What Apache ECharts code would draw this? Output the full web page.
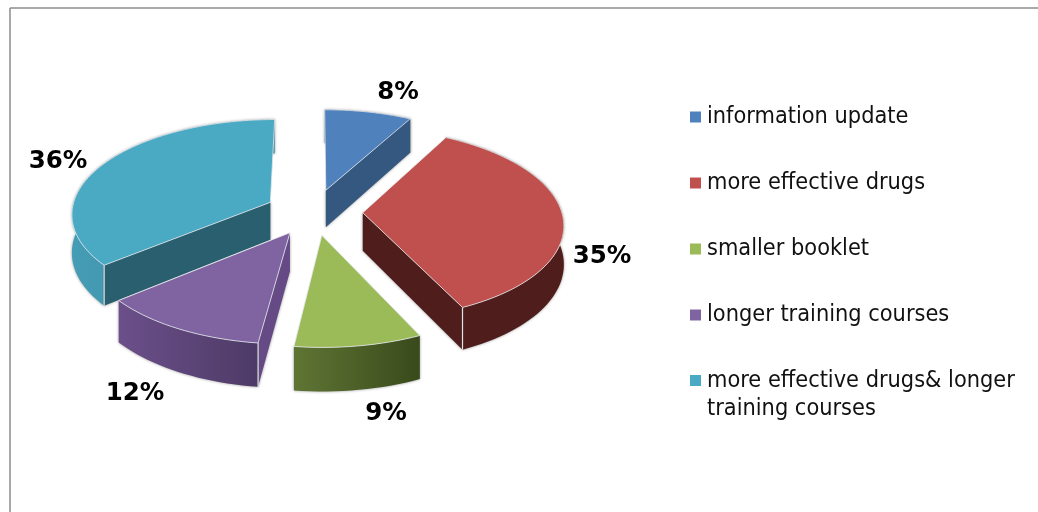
<!DOCTYPE html>
<html><head><meta charset="utf-8">
<style>html,body{margin:0;padding:0;background:#fff}#c{width:1038px;height:512px}</style>
<script src="https://cdn.jsdelivr.net/npm/echarts@6/dist/echarts.min.js"></script>
</head><body><div id="c"></div>
<script>
const categories = ['information update','more effective drugs','smaller booklet','longer training courses','more effective drugs& longer\ntraining courses'];
const shares = [8,35,9,12,36];
const topColors = ['#4f81bd','#c0504d','#9bbb59','#8064a2','#4aa9c3'];
const radialWall = ['#34587f','#4f1e1c','#4a5c28','#664a85','#2a5f6f'];
const outerWallFrom = ['#34587f','#4f1e1c','#5f7534','#6b4f8a','#459cb5'];
const outerWallTo = ['#34587f','#4f1e1c','#394a1b','#4d3a66','#3a8aa2'];
const drawOrder = [1,2,3,3,1];

// Projection of the tilted, exploded disc
const VIEW = {cx:314, cy:212, rx:199, ry:94, persp:0.111, depth:38, explode:0.245};
const LABEL_AT = [[398,93],[602,257],[386,414],[135,394],[58,162]];
const total = shares.reduce((a,b)=>a+b,0);
const toRad = Math.PI/180;
function project(u,v,down){
  const s = 1/(1-VIEW.persp*v);
  return [VIEW.cx+VIEW.rx*u*s, VIEW.cy+VIEW.ry*v*s+(down?VIEW.depth*s:0)];
}
function sliceShape(i){
  let before = 0; for(let k=0;k<i;k++) before+=shares[k];
  const t0 = before/total*360, t1 = (before+shares[i])/total*360, mid=(t0+t1)/2;
  const au = VIEW.explode*Math.sin(mid*toRad), av = -VIEW.explode*Math.cos(mid*toRad);
  const arc=[];
  const steps = Math.max(8,Math.round((t1-t0)/2));
  for(let k=0;k<=steps;k++){
    const t=(t0+(t1-t0)*k/steps)*toRad;
    arc.push([au+Math.sin(t),av-Math.cos(t)]);
  }
  return {t0,t1,apex:[au,av],arc};
}
function renderSlice(i){
  return function(params,api){
    const sh = sliceShape(i), kids=[];
    const shadow={shadowBlur:3,shadowColor:'rgba(60,60,60,0.55)'};
    const top=sh.arc.map(p=>project(p[0],p[1],false));
    const bot=sh.arc.map(p=>project(p[0],p[1],true));
    const aTop=project(sh.apex[0],sh.apex[1],false), aBot=project(sh.apex[0],sh.apex[1],true);
    kids.push({type:'polygon',shape:{points:top.concat(bot.slice().reverse())},
      style:Object.assign({fill:new echarts.graphic.LinearGradient(0,0,1,0,[{offset:0,color:outerWallFrom[i]},{offset:1,color:outerWallTo[i]}])},shadow)});
    const sin0=Math.sin(sh.t0*toRad), sin1=Math.sin(sh.t1*toRad);
    const startVisible = sin0<-0.001, endVisible = sin1>0.001;
    if(startVisible) kids.push({type:'polygon',shape:{points:[aTop,top[0],bot[0],aBot]},style:Object.assign({fill:radialWall[i]},shadow)});
    if(endVisible){const n=top.length-1; kids.push({type:'polygon',shape:{points:[aTop,top[n],bot[n],aBot]},style:Object.assign({fill:radialWall[i]},shadow)});}
    const edge={stroke:'#dfe3e6',lineWidth:1.2,fill:null};
    if(startVisible && Math.cos(sh.t0*toRad)<0) kids.push({type:'line',shape:{x1:top[0][0],y1:top[0][1],x2:bot[0][0],y2:bot[0][1]},style:edge});
    if(endVisible && Math.cos(sh.t1*toRad)<0){const n=top.length-1;kids.push({type:'line',shape:{x1:top[n][0],y1:top[n][1],x2:bot[n][0],y2:bot[n][1]},style:edge});}
    kids.push({type:'polygon',shape:{points:[aTop].concat(top)},style:{fill:topColors[i],stroke:'#e4e8ec',lineWidth:0.8,lineJoin:'round'}});
    kids.push({type:'text',style:{text:api.value(0)+'%',x:LABEL_AT[i][0],y:LABEL_AT[i][1],align:'center',verticalAlign:'middle',
      fontFamily:'DejaVu Sans',fontWeight:'bold',fontSize:24.5,fill:'#000'}});
    return {type:'group',children:kids};
  };
}
const chart = echarts.init(document.getElementById('c'),null,{renderer:'canvas'});
chart.setOption({
  animation:false,
  backgroundColor:'#fff',
  legend:{
    orient:'vertical',left:690,top:103,padding:0,itemWidth:11,itemHeight:11,itemGap:38,icon:'rect',selectedMode:false,
    textStyle:{fontFamily:'DejaVu Sans Condensed, DejaVu Sans',fontSize:23.3,lineHeight:28,color:'#111',padding:[0,0,0,1]},
    data:categories.map((n,i)=>i===categories.length-1?{name:n,itemStyle:{opacity:0}}:{name:n})
  },
  graphic:[
    {type:'line',silent:true,shape:{x1:10,y1:8,x2:1038,y2:8},style:{stroke:'#8c8c8c',lineWidth:1.5}},
    {type:'line',silent:true,shape:{x1:10,y1:8,x2:10,y2:512},style:{stroke:'#8c8c8c',lineWidth:1.5}},
    {type:'rect',silent:true,shape:{x:690,y:375,width:11,height:11},style:{fill:topColors[4]}}
  ],
  series:categories.map((n,i)=>({
    type:'custom',name:n,coordinateSystem:'none',silent:true,z:drawOrder[i]+2,
    itemStyle:{color:topColors[i]},
    renderItem:renderSlice(i),
    data:[[shares[i]]]
  }))
});
</script></body></html>
